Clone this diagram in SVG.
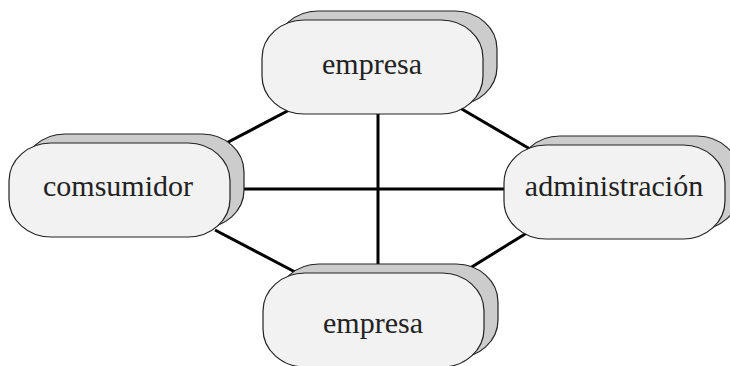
<svg xmlns="http://www.w3.org/2000/svg" width="730" height="366" viewBox="0 0 730 366">
  <defs>
    <style>
      .back { fill: #cccccc; stroke: #222222; stroke-width: 1.2; }
      .front { fill: #f2f2f2; stroke: #222222; stroke-width: 1.2; }
      .label { font-family: Liberation Serif, Times New Roman, Tinos, Nimbus Roman, DejaVu Serif, serif; font-size: 30px; fill: #222222; text-anchor: middle; }
      .link { stroke: #000000; stroke-width: 3; fill: none; }
    </style>
    <!-- one rounded node body: back layer drawn offset up-right -->
    <rect id="body" x="0" y="0" width="221" height="94" rx="42" ry="38"/>
  </defs>

  <rect width="730" height="366" fill="#ffffff"/>

  <g id="connectors">
    <line class="link" x1="378" y1="100" x2="378" y2="285"/>
    <line class="link" x1="235" y1="189" x2="515" y2="189"/>
    <line class="link" x1="215" y1="149" x2="295" y2="107"/>
    <line class="link" x1="460" y1="108" x2="530" y2="149"/>
    <line class="link" x1="215" y1="230" x2="297" y2="273"/>
    <line class="link" x1="462" y1="273" x2="530" y2="231"/>
  </g>

  <g id="empresa-top">
    <use href="#body" class="back" x="276" y="11"/>
    <use href="#body" class="front" x="262" y="20"/>
    <text class="label" x="372" y="74">empresa</text>
  </g>

  <g id="comsumidor">
    <use href="#body" class="back" x="23" y="134"/>
    <use href="#body" class="front" x="9" y="143"/>
    <text class="label" x="118" y="196">comsumidor</text>
  </g>

  <g id="administracion">
    <use href="#body" class="back" x="518" y="136"/>
    <use href="#body" class="front" x="504" y="145"/>
    <text class="label" x="614" y="196">administración</text>
  </g>

  <g id="empresa-bottom">
    <use href="#body" class="back" x="277" y="264"/>
    <use href="#body" class="front" x="263" y="273"/>
    <text class="label" x="373" y="333">empresa</text>
  </g>
</svg>
